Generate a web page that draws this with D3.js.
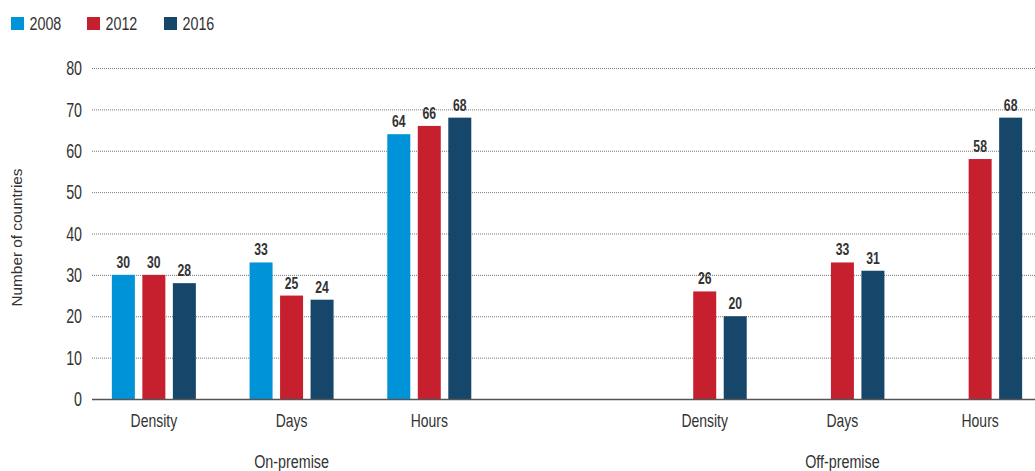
<!DOCTYPE html>
<html>
<head>
<meta charset="utf-8">
<script src="https://cdn.jsdelivr.net/npm/d3@7"></script>
<style>
  html, body { margin: 0; padding: 0; background: #fff; }
  svg { display: block; }
  text { font-family: "Liberation Sans", Arial, sans-serif; fill: #333; }
</style>
</head>
<body>
<svg id="chart" width="1035" height="471"></svg>
<script>
// ---- data ----
const groups = ["On-premise", "Off-premise"];
const categories = ["Density", "Days", "Hours"];
const years = ["2008", "2012", "2016"];
const values2008 = [30, 33, 64, null, null, null];
const values2012 = [30, 25, 66, 26, 33, 58];
const values2016 = [28, 24, 68, 20, 31, 68];
const yTicks = [0, 10, 20, 30, 40, 50, 60, 70, 80];
const colors = ["#0093d7", "#c6202f", "#17466b"];
const yTitle = "Number of countries";

// slot keys: 3 on-premise, spacer, 3 off-premise
const slotKeys = [];
groups.forEach((g, gi) => {
  categories.forEach(c => slotKeys.push(g + "|" + c));
  if (gi < groups.length - 1) slotKeys.push("spacer" + gi);
});
const series = [values2008, values2012, values2016];
const rows = [];
groups.forEach((g, gi) => categories.forEach((c, ci) => {
  const idx = gi * categories.length + ci;
  years.forEach((y, yi) => rows.push({ key: g + "|" + c, cat: c, year: y, yi, value: series[yi][idx] }));
}));

const svg = d3.select("#chart");
const x = d3.scaleBand().domain(slotKeys).range([85, 1049]).padding(0);
const xi = d3.scaleBand().domain(years).range([0, 84]).paddingInner(0.246).paddingOuter(0);
const y = d3.scaleLinear().domain([0, 80]).range([399, 68]);
const gridLeft = 92, gridRight = 1035;
const barX = d => x(d.key) + x.bandwidth() / 2 - 42 + xi(d.year);

// gridlines
svg.append("g").selectAll("line").data(yTicks.filter(t => t > 0)).join("line")
  .attr("x1", gridLeft).attr("x2", gridRight)
  .attr("y1", d => y(d) + 0.5).attr("y2", d => y(d) + 0.5)
  .attr("stroke", "#777").attr("stroke-width", 1).attr("stroke-dasharray", "1,1");

// y axis labels
const yAxis = d3.axisLeft(y).tickValues(yTicks).tickSize(0).tickPadding(0);
const ya = svg.append("g").attr("transform", `translate(82,0)`).call(yAxis);
ya.select(".domain").remove();
ya.selectAll("text").attr("font-size", 21).attr("fill", "#333")
  .attr("transform", "scale(0.68,1)")
  .style("font-family", '"Liberation Sans", Arial, sans-serif');

// y title
svg.append("text").attr("transform", `translate(22,${y(40) + 4}) rotate(-90)`)
  .attr("text-anchor", "middle").attr("font-size", 15)
  .attr("textLength", 138).attr("lengthAdjust", "spacingAndGlyphs").text(yTitle);

// bars
const barData = rows.filter(d => d.value != null);
svg.append("g").selectAll("rect").data(barData).join("rect")
  .attr("x", barX)
  .attr("width", xi.bandwidth())
  .attr("y", d => y(d.value))
  .attr("height", d => y(0) - y(d.value))
  .attr("fill", d => colors[d.yi]);

// value labels
svg.append("g").selectAll("text").data(barData).join("text")
  .attr("transform", d => `translate(${barX(d) + xi.bandwidth() / 2},${y(d.value) - 7}) scale(0.74,1)`)
  .attr("text-anchor", "middle").attr("font-size", 16.5).attr("font-weight", "bold")
  .attr("fill", "#333").text(d => d.value);

// baseline
svg.append("line").attr("x1", gridLeft).attr("x2", gridRight)
  .attr("y1", y(0) + 0.5).attr("y2", y(0) + 0.5).attr("stroke", "#555").attr("stroke-width", 1.5);

// category labels
const xAxis = d3.axisBottom(x).tickSize(0).tickPadding(0)
  .tickFormat(k => k.startsWith("spacer") ? "" : k.split("|")[1]);
const xa = svg.append("g").attr("transform", `translate(0,${y(0) + 15})`).call(xAxis);
xa.select(".domain").remove();
xa.selectAll("text").attr("font-size", 18.6).attr("fill", "#333")
  .attr("transform", "scale(0.75,1)")
  .style("font-family", '"Liberation Sans", Arial, sans-serif');

// group labels
svg.append("g").selectAll("text").data(groups).join("text")
  .attr("transform", g => `translate(${x(g + "|" + categories[1]) + x.bandwidth() / 2},467.5) scale(0.77,1)`)
  .attr("text-anchor", "middle").attr("font-size", 18.6).text(g => g);

// legend
const legendX = [11, 87, 164];
const lg = svg.append("g").selectAll("g").data(years).join("g")
  .attr("transform", (d, i) => `translate(${legendX[i]},17)`);
lg.append("rect").attr("width", 13).attr("height", 13).attr("fill", (d, i) => colors[i]);
lg.append("text").attr("transform", "translate(18.5,13) scale(0.77,1)")
  .attr("font-size", 18.6).text(d => d);
</script>
</body>
</html>
